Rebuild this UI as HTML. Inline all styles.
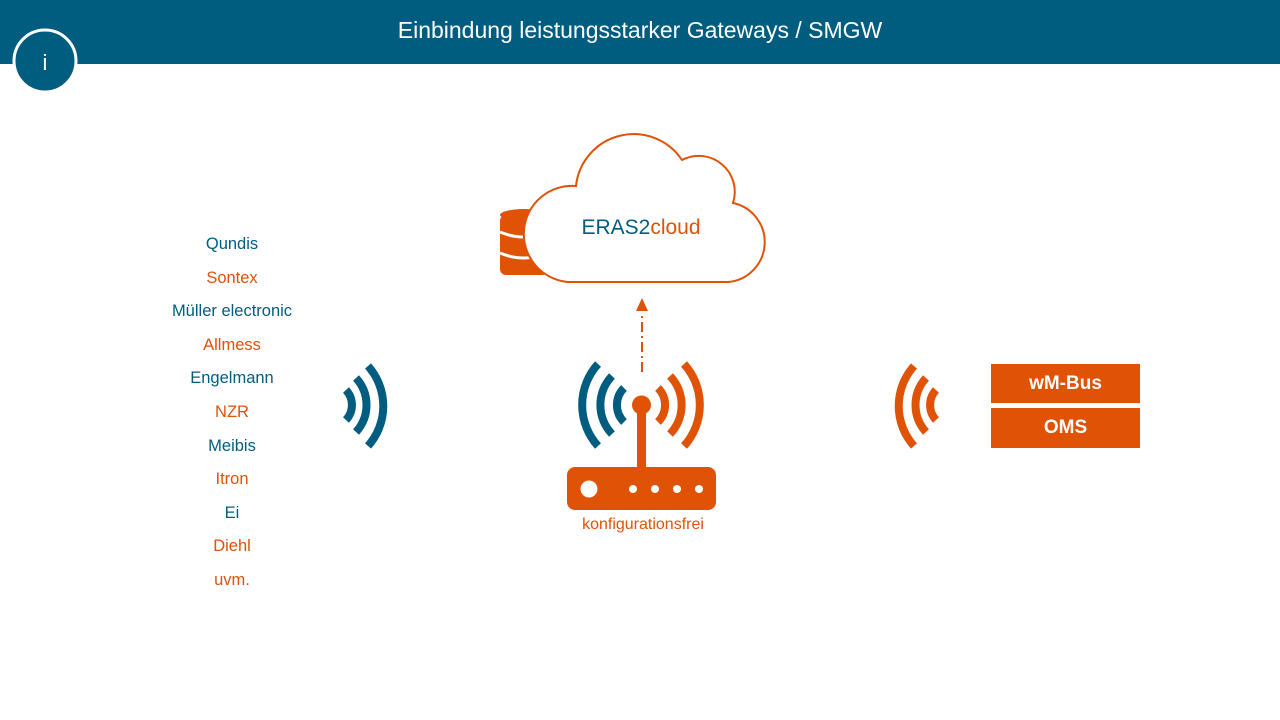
<!DOCTYPE html>
<html><head><meta charset="utf-8"><style>
body{margin:0;width:1280px;height:720px;background:#fff;overflow:hidden;font-family:"Liberation Sans",sans-serif;position:relative}
.hdr{position:absolute;left:0;top:0;width:1280px;height:64px;background:#005d80}
.title{position:absolute;left:0;width:1280px;top:17px;text-align:center;color:#fff;font-size:23px}
.list{position:absolute;left:132px;width:200px;top:228px;text-align:center;font-size:16.5px;line-height:33.6px}
.b{color:#005d80}.o{color:#e05206}
.box{position:absolute;left:991px;width:149px;background:#e05206;color:#fff;font-weight:bold;font-size:19px;text-align:center}
</style></head><body>
<div class="hdr"><div class="title">Einbindung leistungsstarker Gateways / SMGW</div></div>
<svg width="1280" height="720" style="position:absolute;left:0;top:0">
<circle cx="45" cy="61" r="31" fill="#005d80" stroke="#fff" stroke-width="3"/>
<text x="45" y="70" fill="#fff" font-size="22" text-anchor="middle" font-family="Liberation Sans">i</text>
<g fill="#e05206">
<rect x="500" y="215" width="48" height="60" rx="6"/>
</g>
<g stroke="#fff" stroke-width="3" fill="none">
<path d="M500 232 Q524 242 548 232"/><path d="M500 253 Q524 263 548 253"/>
</g>
<ellipse cx="524" cy="215" rx="24" ry="6" fill="#e05206"/>
<path d="M568 282 A42 42 0 0 1 576 186 A58 58 0 0 1 682 160 A36 36 0 0 1 733 203 A40 40 0 0 1 728 282 Z" fill="#fff" stroke="#e05206" stroke-width="2"/>
<text x="641" y="234" text-anchor="middle" font-size="21" font-family="Liberation Sans"><tspan fill="#005d80">ERAS2</tspan><tspan fill="#e05206">cloud</tspan></text>
<line x1="642" y1="372" x2="642" y2="312" stroke="#e05206" stroke-width="2" stroke-dasharray="10,4,2,4"/>
<polygon points="636,311 648,311 642,298" fill="#e05206"/>
<g fill="none" stroke-width="8" stroke-linecap="butt">
<g stroke="#005d80">
<path d="M624 388 A24 24 0 0 0 624 422"/>
<path d="M612 376 A42 42 0 0 0 612 434"/>
<path d="M598 364 A61 61 0 0 0 598 446"/>
</g>
<g stroke="#e05206">
<path d="M658 388 A24 24 0 0 1 658 422"/>
<path d="M670 376 A42 42 0 0 1 670 434"/>
<path d="M684 364 A61 61 0 0 1 684 446"/>
</g>
<g stroke="#005d80">
<path d="M346 390 A22 22 0 0 1 346 420"/>
<path d="M356 378 A40 40 0 0 1 356 432"/>
<path d="M368 366 A60 60 0 0 1 368 446"/>
</g>
<g stroke="#e05206">
<path d="M936 390 A22 22 0 0 0 936 420"/>
<path d="M926 378 A40 40 0 0 0 926 432"/>
<path d="M914 366 A60 60 0 0 0 914 446"/>
</g>
</g>
<rect x="637" y="405" width="9" height="64" fill="#e05206"/>
<circle cx="641.5" cy="405" r="9.5" fill="#e05206"/>
<rect x="567" y="467" width="149" height="43" rx="8" fill="#e05206"/>
<circle cx="589" cy="489" r="8.5" fill="#fff"/>
<g fill="#fff"><circle cx="633" cy="489" r="4"/><circle cx="655" cy="489" r="4"/><circle cx="677" cy="489" r="4"/><circle cx="699" cy="489" r="4"/></g>
<text x="643" y="529" text-anchor="middle" fill="#e05206" font-size="16" font-family="Liberation Sans">konfigurationsfrei</text>
</svg>
<div class="list">
<div class="b">Qundis</div><div class="o">Sontex</div><div class="b">Müller electronic</div><div class="o">Allmess</div><div class="b">Engelmann</div><div class="o">NZR</div><div class="b">Meibis</div><div class="o">Itron</div><div class="b">Ei</div><div class="o">Diehl</div><div class="o">uvm.</div>
</div>
<div class="box" style="top:364px;height:39px;line-height:39px">wM-Bus</div>
<div class="box" style="top:408px;height:40px;line-height:40px">OMS</div>
</body></html>
